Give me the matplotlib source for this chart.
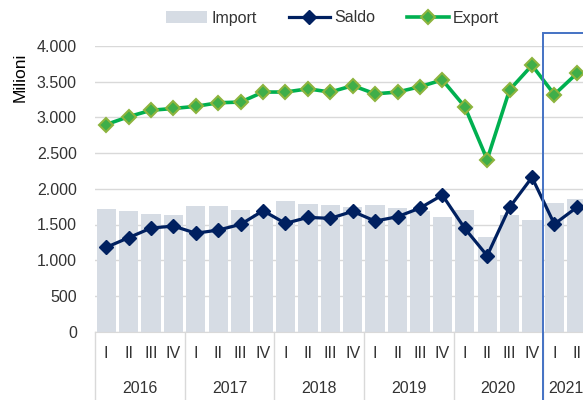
import numpy as np
import matplotlib
matplotlib.use("Agg")
import matplotlib.pyplot as plt
from matplotlib.patches import Rectangle
from matplotlib.transforms import blended_transform_factory

plt.rcParams["font.family"] = ["Liberation Sans", "DejaVu Sans"]

# dati trimestrali (milioni)
years = ["2016", "2017", "2018", "2019", "2020", "2021"]
quarters = ["I", "II", "III", "IV"] * 5 + ["I", "II"]
export = [2900, 3010, 3100, 3125, 3155, 3205, 3215, 3355, 3355, 3400, 3355,
          3445, 3330, 3355, 3430, 3525, 3150, 2410, 3385, 3730, 3320, 3615]
saldo = [1180, 1315, 1450, 1478, 1378, 1422, 1502, 1693, 1516, 1600, 1586,
         1684, 1548, 1609, 1730, 1912, 1446, 1063, 1740, 2160, 1506, 1740]
imports = [1712, 1684, 1646, 1628, 1754, 1754, 1700, 1650, 1826, 1790, 1772,
           1745, 1775, 1730, 1695, 1610, 1700, 1320, 1640, 1560, 1800, 1860]

W, H = 583, 400
fig = plt.figure(figsize=(W / 100, H / 100), dpi=100)
# asse che continua oltre il bordo destro (grafico tagliato)
ax = fig.add_axes([95 / W, 1 - 331.6 / H, 493 / W, 285.6 / H])

x = np.arange(len(quarters))
txt = "#333333"
grid = "#D9D9D9"

b_imp = ax.bar(x, imports, width=0.86, color="#D6DCE4", zorder=2, label="Import")
l_sal, = ax.plot(x, saldo, color="#002060", lw=2.3, marker="D", ms=7.5,
                 mfc="#002060", mec="#002060", zorder=3, label="Saldo")
l_exp, = ax.plot(x, export, color="#00B050", lw=2.6, marker="D", ms=7.5,
                 mfc="#3FAE49", mec="#8DB43E", mew=1.5, zorder=4, label="Export")

ax.set_xlim(-0.5, len(quarters) - 0.5)
ax.set_ylim(0, 4000)
ax.set_yticks(np.arange(0, 4001, 500))
ax.set_yticklabels([f"{v:,}".replace(",", ".") for v in range(0, 4001, 500)])
ax.tick_params(axis="y", length=0, pad=13, labelsize=11.5, labelcolor=txt)
ax.set_xticks([])
ax.grid(axis="y", color=grid, lw=1, zorder=0)
ax.set_axisbelow(True)
for s in ["left", "right", "top"]:
    ax.spines[s].set_visible(False)
ax.spines["bottom"].set_color(grid)

# etichette asse x su due livelli
tr = blended_transform_factory(ax.transData, ax.transAxes)
for i, q in enumerate(quarters):
    ax.text(i, -0.075, q, transform=tr, ha="center", va="center",
            fontsize=11.5, color=txt)
for k, yr in enumerate(years):
    start = 4 * k
    end = min(start + 4, len(quarters))
    ax.text((start + end - 1) / 2, -0.2, yr, transform=tr, ha="center",
            va="center", fontsize=11.5, color=txt)
for b in range(0, len(quarters), 4):
    ax.plot([b - 0.5, b - 0.5], [0, -0.3], transform=tr, color=grid, lw=1,
            clip_on=False)

# riquadro blu su ultimo periodo
trf = blended_transform_factory(ax.transData, fig.transFigure)
ax.add_patch(Rectangle((len(quarters) - 2.5, -0.1), 6, 1 - 33 / H + 0.1,
                       transform=trf, fill=False, ec="#4472C4", lw=1.4,
                       clip_on=False, zorder=6))

fig.text(20 / W, 1 - 77 / H, "Milioni", rotation=90, ha="center",
         va="center", fontsize=12.5, color="#000000")

fig.legend(handles=[b_imp, l_sal, l_exp], labels=["Import", "Saldo", "Export"],
           loc="center", bbox_to_anchor=(0.57, 1 - 18 / H), ncol=3,
           frameon=False, fontsize=11.5, handlelength=2.6, handletextpad=0.25,
           columnspacing=2.0, labelcolor=txt)

fig.savefig("out.png", dpi=100)
